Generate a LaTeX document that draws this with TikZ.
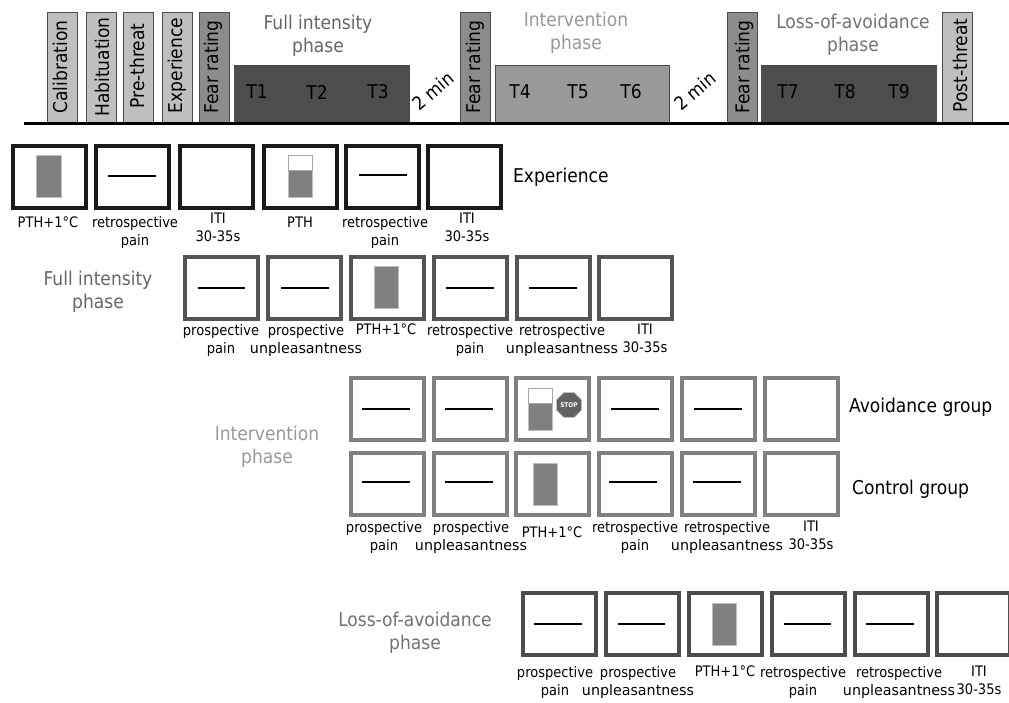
\documentclass[tikz,border=0pt]{standalone}
\usepackage{fontspec}
\setmainfont{DejaVu Sans Condensed}
\newfontface\widefont{DejaVu Sans Condensed}[FakeStretch=1.093]
\newcommand{\unpl}{{\widefont unpleasantness}}
\usetikzlibrary{shapes.geometric}
\definecolor{cLight}{HTML}{BFBFBF}
\definecolor{cFear}{HTML}{8C8C8C}
\definecolor{cDark}{HTML}{4D4D4D}
\definecolor{cMid}{HTML}{999999}
\definecolor{cBlock}{HTML}{808080}
\definecolor{fA}{HTML}{1A1A1A}
\definecolor{fB}{HTML}{555555}
\definecolor{fC}{HTML}{808080}
\definecolor{fD}{HTML}{4D4D4D}
\tikzset{
 x=1pt,y=-1pt,
 bar/.style={draw=black!70,line width=1pt,anchor=south,minimum width=30pt,minimum height=110pt,inner sep=0pt,outer sep=0pt},
 barlight/.style={bar,fill=cLight},
 barfear/.style={bar,fill=cFear},
 bartext/.style={rotate=90,font=\fontsize{19}{20}\selectfont,inner sep=0pt},
 block/.style={draw=black!70,line width=1pt,anchor=south west,minimum height=57pt,inner sep=0pt,outer sep=0pt},
 tlabel/.style={font=\fontsize{19}{20}\selectfont,inner sep=0pt},
 title/.style={font=\fontsize{19}{23}\selectfont,align=center,inner sep=0pt},
 twomin/.style={font=\fontsize{18.5}{20}\selectfont,rotate=40,inner sep=0pt},
 framebox/.style={line width=4pt,fill=white,minimum width=73pt,minimum height=62pt,inner sep=0pt,outer sep=0pt,anchor=north west},
 restline/.style={line width=2.2pt,draw=black},
 lab/.style={font=\fontsize{14.5}{18}\selectfont,align=center,inner sep=0pt,anchor=north},
 grouplab/.style={font=\fontsize{19}{20}\selectfont,inner sep=0pt,anchor=west},
 pbar/.style={fill=cBlock,draw=black!25,line width=.6pt,minimum width=24.5pt,minimum height=42.5pt,inner sep=0pt,outer sep=0pt,anchor=north west},
 pwhite/.style={fill=white,draw=black!35,line width=.8pt,minimum width=24.5pt,minimum height=15pt,inner sep=0pt,outer sep=0pt,anchor=north west},
}
% name, x, y, colour
\newcommand{\frm}[4]{\node[framebox,draw=#4] (#1) at (#2+2,#3+2) {};}
% name, x, y, colour, line x start, line y
\newcommand{\frmL}[6]{\frm{#1}{#2}{#3}{#4}
 \draw[restline] (#5,#6) -- (#5+47.5,#6);}
% name, x, y, colour, block x, block y
\newcommand{\frmB}[6]{\frm{#1}{#2}{#3}{#4}
 \node[pbar] (#1b) at (#5,#6) {};}
\begin{document}
\begin{tikzpicture}
\useasboundingbox[fill=white] (0,0) rectangle (1009,702);
% timeline
\node[barlight] (cal) at (62.2,122.5) {};
\node[bartext] at (60,67) {Calibration};
\node[barlight,minimum height=110pt] (hab) at (101,122.5) {};
\node[bartext] at (102,67) {Habituation};
\node[barlight] (pre) at (138.3,122.5) {};
\node[bartext] at (137,66) {Pre-threat};
\node[barlight] (exp) at (177.2,122.5) {};
\node[bartext] at (177,65.5) {Experience};
\node[barfear] (f1) at (214.8,122.5) {};
\node[bartext] at (213,67) {Fear rating};
\node[block,fill=cDark,minimum width=174.7pt] (b1) at (234.3,122.5) {};
\node[tlabel] (t1) at (257,92) {T1};
\node[tlabel] (t2) at (317,92) {T2};
\node[tlabel] (t3) at (378,92) {T3};
\node[twomin] (m1) at (433,91) {2 min};
\node[barfear] (f2) at (475,122.5) {};
\node[bartext] at (475,67) {Fear rating};
\node[block,fill=cMid,minimum width=174.7pt] (b2) at (495,122.5) {};
\node[tlabel] (t4) at (520,92) {T4};
\node[tlabel] (t5) at (578,92) {T5};
\node[tlabel] (t6) at (631,92) {T6};
\node[twomin] (m2) at (695,91) {2 min};
\node[barfear] (f3) at (742.3,122.5) {};
\node[bartext] at (744,67) {Fear rating};
\node[block,fill=cDark,minimum width=175pt] (b3) at (761.7,122.5) {};
\node[tlabel] (t7) at (788,92) {T7};
\node[tlabel] (t8) at (845,92) {T8};
\node[tlabel] (t9) at (899,92) {T9};
\node[barlight] (post) at (957.8,122.5) {};
\node[bartext] at (960,65.5) {Post-threat};
\coordinate (bl) at (24,123);
\coordinate (br) at (1009,123);
\draw[line width=3pt,black] (bl) -- (br);
\node[title,text=black!60] (tf) at (318,36) {Full intensity\\phase};
\node[title,text=black!40] (ti) at (576,33) {Intervention\\phase};
\node[title,text=black!55] (tl) at (853,35) {Loss-of-avoidance\\phase};
% row 1
\frmB{a1}{11}{144}{fA}{36.3}{155}
\frmL{a2}{94}{144}{fA}{108}{176.3}
\frm{a3}{178}{144}{fA}
\frmB{a4}{262}{144}{fA}{288}{155}
\node[pwhite] (a4w) at (288,155) {};
\frmL{a5}{344.3}{144}{fA}{359}{175}
\frm{a6}{426.3}{144}{fA}
\node[lab] (la1) at (48,217) {PTH+1°C};
\node[lab] (la2) at (135,216) {retrospective\\pain};
\node[lab] (la3) at (218,213) {ITI\\30-35s};
\node[lab] (la4) at (300,217) {PTH};
\node[lab] (la5) at (385,216) {retrospective\\pain};
\node[lab] (la6) at (467,213) {ITI\\30-35s};
\node[grouplab] (gE) at (513,177.5) {Experience};
% row 2
\node[title] (g2) at (98,291.5) {\color{black!60}Full intensity\\\color{black!60}phase};
\frmL{b1f}{183.3}{255}{fB}{197.5}{288}
\frmL{b2f}{266}{255}{fB}{281}{288}
\frmB{b3f}{349}{255}{fB}{374}{266}
\frmL{b4f}{432}{255}{fB}{446}{288}
\frmL{b5f}{514.5}{255}{fB}{529}{288}
\frm{b6f}{597}{255}{fB}
\node[lab] (lb1) at (221,324) {prospective\\pain};
\node[lab] (lb2) at (306,324) {prospective\\\unpl};
\node[lab] (lb3) at (386,324) {PTH+1°C};
\node[lab] (lb4) at (470,324) {retrospective\\pain};
\node[lab] (lb5) at (562,324) {retrospective\\\unpl};
\node[lab] (lb6) at (645,324) {ITI\\30-35s};
% row 3
\node[title,text=black!40] (g3) at (267,446.5) {Intervention\\phase};
\frmL{c1}{348.7}{375.5}{fC}{362}{409}
\frmL{c2}{431.7}{375.5}{fC}{445}{409}
\frm{c3}{514.3}{375.5}{fC}
\node[pbar] (c3b) at (528,388) {};
\node[pwhite] (c3w) at (528,388) {};
\node[regular polygon,regular polygon sides=8,fill=black!62,draw=black!25,line width=.6pt,minimum size=27pt,inner sep=0pt,text=white,font=\bfseries\fontsize{6.5}{7}\selectfont] (stop) at (569,405) {STOP};
\frmL{c4}{597.3}{375.5}{fC}{611}{409}
\frmL{c5}{680}{375.5}{fC}{694}{409}
\frm{c6}{763}{375.5}{fC}
\node[grouplab] (gA) at (849,407) {Avoidance group};
% row 4
\frmL{d1}{348.7}{451}{fC}{362}{482}
\frmL{d2}{431.7}{451}{fC}{445}{482}
\frmB{d3}{514.3}{451}{fC}{533}{463}
\frmL{d4}{597.3}{451}{fC}{609}{482}
\frmL{d5}{680}{451}{fC}{693}{482}
\frm{d6}{763}{451}{fC}
\node[grouplab] (gC) at (852,489) {Control group};
\node[lab] (ld1) at (384,521) {prospective\\pain};
\node[lab] (ld2) at (471,521) {prospective\\\unpl};
\node[lab] (ld3) at (552,527) {PTH+1°C};
\node[lab] (ld4) at (635,521) {retrospective\\pain};
\node[lab] (ld5) at (727,521) {retrospective\\\unpl};
\node[lab] (ld6) at (811,521) {ITI\\30-35s};
% row 5
\node[title,text=black!55] (g5) at (415,632.5) {Loss-of-avoidance\\phase};
\frmL{e1}{521}{591}{fD}{534}{624}
\frmL{e2}{604}{591}{fD}{617.5}{624}
\frmB{e3}{687}{591}{fD}{712}{603}
\frmL{e4}{769.5}{591}{fD}{783.5}{624}
\frmL{e5}{852.5}{591}{fD}{866}{624}
\frm{e6}{935}{591}{fD}
\node[lab] (le1) at (555,666) {prospective\\pain};
\node[lab] (le2) at (638,666) {prospective\\\unpl};
\node[lab] (le3) at (725,666) {PTH+1°C};
\node[lab] (le4) at (803,666) {retrospective\\pain};
\node[lab] (le5) at (899,666) {retrospective\\\unpl};
\node[lab] (le6) at (979,666) {ITI\\30-35s};
\end{tikzpicture}
\end{document}
